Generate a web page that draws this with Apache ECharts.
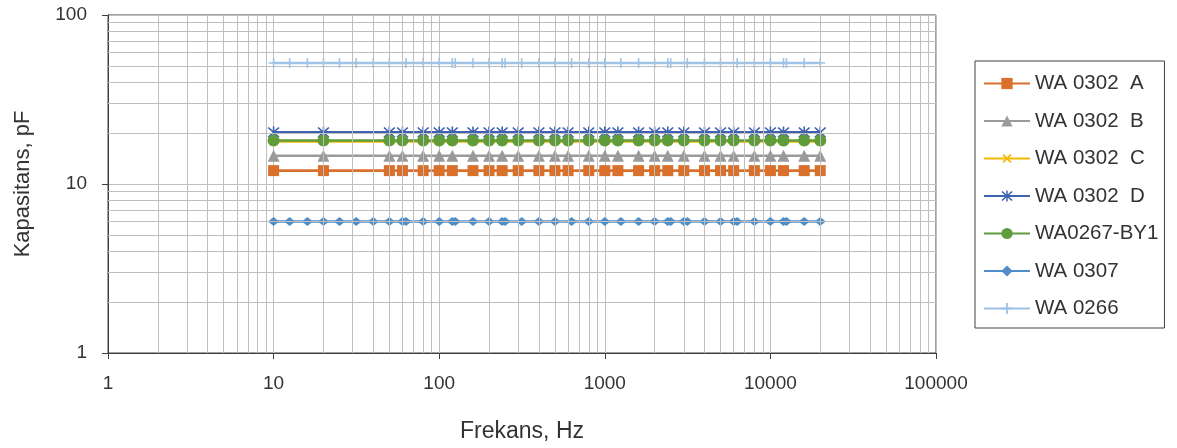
<!DOCTYPE html>
<html lang="en">
<head>
    <meta charset="UTF-8">
    <title>Kapasitans</title>
    <script src="https://cdn.jsdelivr.net/npm/echarts@6/dist/echarts.min.js"></script>
    <style>
        html, body { margin: 0; padding: 0; background: #fff; }
        #chart { width: 1177px; height: 448px; }
    </style>
</head>
<body>
<div id="chart"></div>
<script type="text/javascript">
    // frekanslar (Hz)
    var freqWA0302 = [10, 20, 50, 60, 80, 100, 120, 160, 200, 240, 300, 400, 500, 600, 800, 1000, 1200, 1600, 2000, 2400, 3000, 4000, 5000, 6000, 8000, 10000, 12000, 16000, 20000];
    var freqWA0307 = [10, 12.5, 16, 20, 25, 31.5, 40, 50, 60, 63, 80, 100, 120, 125, 160, 200, 240, 250, 315, 400, 500, 630, 800, 1000, 1250, 1600, 2000, 2400, 2500, 3000, 3150, 4000, 5000, 6000, 6300, 8000, 10000, 12000, 12500, 16000, 20000];
    var freqWA0266 = [10, 12.5, 16, 20, 25, 31.5, 40, 50, 63, 80, 100, 120, 125, 160, 200, 240, 250, 315, 400, 500, 630, 800, 1000, 1250, 1600, 2000, 2400, 2500, 3150, 4000, 5000, 6300, 8000, 10000, 12000, 12500, 16000, 20000];

    // kapasitans (pF)
    var capA = [12, 12, 12, 12, 12, 12, 12, 12, 12, 12, 12, 12, 12, 12, 12, 12, 12, 12, 12, 12, 12, 12, 12, 12, 12, 12, 12, 12, 12];
    var capB = [14.7, 14.7, 14.7, 14.7, 14.7, 14.7, 14.7, 14.7, 14.7, 14.7, 14.7, 14.7, 14.7, 14.7, 14.7, 14.7, 14.7, 14.7, 14.7, 14.7, 14.7, 14.7, 14.7, 14.7, 14.7, 14.7, 14.7, 14.7, 14.7];
    var capC = [17.8, 17.8, 17.8, 17.8, 17.8, 17.8, 17.8, 17.8, 17.8, 17.8, 17.8, 17.8, 17.8, 17.8, 17.8, 17.8, 17.8, 17.8, 17.8, 17.8, 17.8, 17.8, 17.8, 17.8, 17.8, 17.8, 17.8, 17.8, 17.8];
    var capD = [20.2, 20.2, 20.2, 20.2, 20.2, 20.2, 20.2, 20.2, 20.2, 20.2, 20.2, 20.2, 20.2, 20.2, 20.2, 20.2, 20.2, 20.2, 20.2, 20.2, 20.2, 20.2, 20.2, 20.2, 20.2, 20.2, 20.2, 20.2, 20.2];
    var capBY1 = [18.1, 18.1, 18.1, 18.1, 18.1, 18.1, 18.1, 18.1, 18.1, 18.1, 18.1, 18.1, 18.1, 18.1, 18.1, 18.1, 18.1, 18.1, 18.1, 18.1, 18.1, 18.1, 18.1, 18.1, 18.1, 18.1, 18.1, 18.1, 18.1];
    var cap0307 = [6, 6, 6, 6, 6, 6, 6, 6, 6, 6, 6, 6, 6, 6, 6, 6, 6, 6, 6, 6, 6, 6, 6, 6, 6, 6, 6, 6, 6, 6, 6, 6, 6, 6, 6, 6, 6, 6, 6, 6, 6];
    var cap0266 = [52, 52, 52, 52, 52, 52, 52, 52, 52, 52, 52, 52, 52, 52, 52, 52, 52, 52, 52, 52, 52, 52, 52, 52, 52, 52, 52, 52, 52, 52, 52, 52, 52, 52, 52, 52, 52, 52];

    var names = ['WA 0302  A', 'WA 0302  B', 'WA 0302  C', 'WA 0302  D', 'WA0267-BY1', 'WA 0307', 'WA 0266'];
    var xTicks = [1, 10, 100, 1000, 10000, 100000];
    var yTicks = [1, 10, 100];

    function pairs(xs, ys) {
        return xs.map(function (x, i) { return [x, ys[i]]; });
    }

    // ara ızgara çizgileri 2..9 x 10^k
    var minorX = [], minorY = [];
    xTicks.slice(0, -1).forEach(function (d) {
        for (var k = 2; k < 10; k++) minorX.push({ xAxis: d * k });
    });
    yTicks.slice(0, -1).forEach(function (d) {
        for (var k = 2; k < 10; k++) minorY.push({ yAxis: d * k });
    });

    var plusPath = 'path://M4.2,0H5.8V4.2H10V5.8H5.8V10H4.2V5.8H0V4.2H4.2Z';
    var starPath = 'path://M4.4,0H5.6V10H4.4Z M0.5,1.4L1.4,0.5L9.5,8.6L8.6,9.5Z M8.6,0.5L9.5,1.4L1.4,9.5L0.5,8.6Z';
    var font = 'Liberation Sans, Arial, sans-serif';
    var gridColor = '#bfbfbf';
    var textColor = '#333';

    function lineSeries(name, data, color, symbol, size, extra) {
        var s = {
            name: name,
            type: 'line',
            data: data,
            z: 3,
            symbol: symbol,
            symbolSize: size,
            showAllSymbol: true,
            color: color,
            itemStyle: { color: color, borderWidth: 0 },
            lineStyle: { color: color, width: 2.6 }
        };
        for (var k in extra) s[k] = extra[k];
        return s;
    }

    var chart = echarts.init(document.getElementById('chart'));
    chart.setOption({
        animation: false,
        textStyle: { fontFamily: font },
        grid: {
            left: 108, right: 241, top: 15, bottom: 94,
            show: true, borderColor: '#404040', borderWidth: 1
        },
        legend: {
            orient: 'vertical',
            left: 975, top: 61,
            data: names,
            itemWidth: 46, itemHeight: 14, itemGap: 16.5,
            padding: [12, 6, 9, 8],
            borderColor: '#404040', borderWidth: 1,
            backgroundColor: '#fff',
            textStyle: { fontSize: 20.5, color: textColor, fontFamily: font }
        },
        xAxis: {
            type: 'log', logBase: 10, min: 1, max: 100000,
            name: 'Frekans, Hz', nameLocation: 'middle', nameGap: 67,
            nameTextStyle: { fontSize: 23, color: textColor, fontFamily: font },
            axisLine: { lineStyle: { color: '#404040', width: 1 } },
            axisTick: { show: true, length: 6, lineStyle: { color: '#404040' } },
            axisLabel: {
                fontSize: 19, color: textColor, margin: 21, fontFamily: font,
                formatter: function (v) { return String(v); }
            },
            splitLine: { show: true, lineStyle: { color: gridColor, width: 1 } }
        },
        yAxis: {
            type: 'log', logBase: 10, min: 1, max: 100,
            name: 'Kapasitans, pF', nameLocation: 'middle', nameGap: 74,
            nameTextStyle: { fontSize: 22, color: textColor, fontFamily: font },
            axisLine: { show: true, lineStyle: { color: '#404040', width: 1 } },
            axisTick: { show: true, length: 6, lineStyle: { color: '#404040' } },
            axisLabel: {
                fontSize: 19, color: textColor, margin: 21, fontFamily: font,
                formatter: function (v) { return String(v); }
            },
            splitLine: { show: true, lineStyle: { color: gridColor, width: 1 } }
        },
        series: [
            {
                type: 'line', data: [], z: 1, silent: true,
                markLine: {
                    silent: true, symbol: ['none', 'none'], animation: false,
                    label: { show: false },
                    lineStyle: { color: gridColor, width: 1, type: 'solid' },
                    emphasis: { disabled: true },
                    data: minorX.concat(minorY)
                }
            },
            lineSeries(names[0], pairs(freqWA0302, capA), '#d9702c', 'rect', 11),
            lineSeries(names[1], pairs(freqWA0302, capB), '#9a9a9a', 'triangle', 12),
            lineSeries(names[2], pairs(freqWA0302, capC), '#f5b800', plusPath, 10, {
                symbolRotate: 45, lineStyle: { color: '#f5b800', width: 2 }
            }),
            lineSeries(names[3], pairs(freqWA0302, capD), '#3f62b0', starPath, 12),
            lineSeries(names[4], pairs(freqWA0302, capBY1), '#5f9c3a', 'circle', 12),
            lineSeries(names[5], pairs(freqWA0307, cap0307), '#4f8dc7', 'diamond', [11, 9]),
            lineSeries(names[6], pairs(freqWA0266, cap0266), '#9dc3e6', plusPath, 10)
        ]
    });
</script>
</body>
</html>
